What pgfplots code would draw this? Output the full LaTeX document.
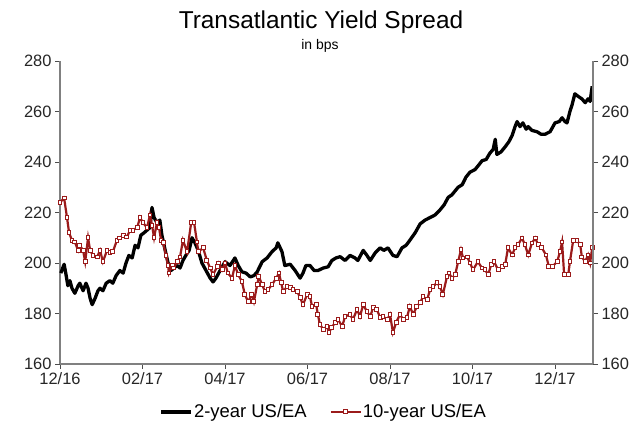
\documentclass[border=0pt]{standalone}
\usepackage{pgfplots}
\pgfplotsset{compat=1.18}
\usepackage{fontspec}
\setmainfont{Liberation Sans}
\definecolor{dred}{RGB}{155,27,27}
\definecolor{axgray}{RGB}{128,128,128}
\begin{document}
\begin{tikzpicture}[x=1bp,y=1bp]
\path[use as bounding box] (0,0) rectangle (640,437);
\node[font=\fontsize{24.5}{27}\selectfont] at (321,415) {Transatlantic Yield Spread};
\node[font=\fontsize{14}{16}\selectfont] at (320,391) {in bps};
\begin{axis}[
  at={(60bp,73bp)}, anchor=south west,
  scale only axis, width=533bp, height=303bp,
  xmin=0, xmax=12.92, ymin=160, ymax=280,
  axis x line*=bottom, axis y line*=left,
  axis line style={draw=axgray, line width=1.5bp},
  every tick/.style={draw=black!70, line width=0.8bp},
  tick align=outside, major tick length=5bp,
  xtick={0,2,4,6,8,10,12},
  xticklabels={12/16,02/17,04/17,06/17,08/17,10/17,12/17},
  ytick={160,180,...,280},
  ticklabel style={font=\fontsize{16.5}{18}\selectfont, text=black!85},
  /pgf/number format/assume math mode=true,
  legend columns=2,
  legend style={at={(0.494,-0.158)}, anchor=center, draw=none, fill=none,
    font=\fontsize{18.5}{20}\selectfont, column sep=0bp, nodes={inner xsep=1bp},
    /tikz/every even column/.append style={column sep=22bp}},
  legend image code/.code={
    \draw[#1, mark repeat=2, mark phase=2] plot coordinates {(0bp,0bp) (15bp,0bp) (30bp,0bp)};},
  clip=false,
]
\addplot[black, line width=3.3bp, line join=round] coordinates {
(0.02,196) (0.10,199.5) (0.15,195) (0.19,191) (0.24,193) (0.29,190) (0.36,188) (0.44,191) (0.48,192) (0.56,189)
(0.63,192) (0.68,190) (0.73,186) (0.78,183.5) (0.85,186) (0.92,189) (0.97,190) (1.04,189) (1.12,192) (1.21,193)
(1.28,192) (1.36,195) (1.45,197) (1.53,196) (1.60,200) (1.67,203) (1.75,202) (1.82,207) (1.89,206) (1.96,211)
(2.04,212) (2.11,213) (2.18,214) (2.23,222) (2.28,218) (2.35,216) (2.42,217) (2.47,211) (2.55,205) (2.62,200)
(2.69,197) (2.76,198) (2.84,199) (2.91,198) (2.98,201) (3.05,203) (3.13,205) (3.20,210) (3.27,208) (3.35,205)
(3.44,200) (3.54,197) (3.64,194) (3.71,192.5) (3.78,194) (3.88,197) (4.00,200.5) (4.12,199) (4.24,202) (4.32,199)
(4.41,196.5) (4.51,196) (4.61,194.5) (4.70,195) (4.78,196.5) (4.90,200.5) (5.02,202) (5.14,204.5) (5.24,206) (5.28,208)
(5.38,204.5) (5.45,199) (5.58,199.5) (5.70,197) (5.82,194) (5.89,196) (5.96,199) (6.06,199) (6.16,197) (6.25,197)
(6.38,198) (6.50,198.5) (6.59,201) (6.69,202) (6.79,202.5) (6.91,201) (7.03,203) (7.15,202) (7.22,201) (7.35,205)
(7.44,203) (7.52,201) (7.64,204) (7.76,206) (7.85,205) (7.95,206) (8.07,203) (8.17,202.5) (8.29,206) (8.39,207)
(8.48,209) (8.61,212) (8.73,215.5) (8.85,217) (8.97,218) (9.09,219) (9.21,221) (9.31,223) (9.41,226) (9.50,227)
(9.65,230) (9.75,231) (9.84,234) (9.94,236) (10.06,237) (10.16,239) (10.23,240.5) (10.33,241) (10.42,243.5) (10.50,245)
(10.55,249) (10.59,243) (10.69,244) (10.79,246) (10.88,248) (10.96,250.5) (11.03,254) (11.08,256) (11.15,254) (11.22,255.5)
(11.30,253) (11.35,254) (11.44,252.5) (11.56,252) (11.66,251) (11.76,251) (11.88,252) (12.00,255.5) (12.10,256) (12.17,257.5)
(12.24,256) (12.29,255.5) (12.36,260) (12.41,262.5) (12.48,267) (12.56,266) (12.65,265) (12.73,263.5) (12.80,265) (12.85,264)
(12.90,270)
};
\addlegendentry{2-year US/EA}
\addplot[dred, line width=2.2bp, mark=square*, mark size=1.9bp,
  mark options={fill=white, draw=dred, line width=1bp}] coordinates {
(0.00,224) (0.10,225.7) (0.17,218) (0.22,212) (0.29,209) (0.36,208.3) (0.44,205) (0.48,207) (0.56,205) (0.61,200.5)
(0.68,210) (0.73,205) (0.80,203) (0.90,202.4) (0.97,205) (1.04,200.5) (1.14,205) (1.21,204) (1.28,204.4) (1.38,209)
(1.45,209.9) (1.53,211) (1.62,210.3) (1.70,213) (1.77,213) (1.87,214) (1.94,218) (2.01,216) (2.11,214) (2.18,219)
(2.23,215) (2.28,210) (2.35,216) (2.40,214) (2.45,209) (2.50,208) (2.57,203) (2.62,199) (2.64,196) (2.72,199)
(2.76,198) (2.84,200.5) (2.91,202.4) (2.98,209) (3.08,204.4) (3.18,216) (3.25,216) (3.32,208.3) (3.35,204.4) (3.47,206)
(3.56,201) (3.64,198) (3.71,195.4) (3.81,198.5) (3.85,200) (3.93,197.3) (4.00,200) (4.07,196) (4.17,194) (4.24,199)
(4.32,195.4) (4.41,192.6) (4.48,187.5) (4.56,184.7) (4.65,187.5) (4.70,184.7) (4.78,191.4) (4.82,194.6) (4.90,191.4) (4.97,188.7)
(5.04,189.4) (5.14,191.4) (5.24,194) (5.31,196) (5.36,192.2) (5.41,188.7) (5.50,190.6) (5.58,190.2) (5.65,189.4) (5.75,188.7)
(5.82,186.3) (5.89,183.5) (5.99,187.5) (6.06,186.7) (6.11,182.8) (6.21,183.5) (6.25,179.6) (6.30,175.7) (6.38,173.7) (6.47,174.9)
(6.52,172.5) (6.59,174.5) (6.67,176.5) (6.74,177.6) (6.84,174.9) (6.91,178.8) (7.03,179.6) (7.10,177.6) (7.20,181.6) (7.27,178.8)
(7.35,183.5) (7.44,180.8) (7.52,178.8) (7.59,182.4) (7.68,181.6) (7.76,178.4) (7.83,178.8) (7.93,177.6) (8.00,179.6) (8.07,172.5)
(8.15,176.5) (8.24,179.6) (8.32,177.6) (8.41,178.4) (8.48,182.8) (8.56,179.6) (8.65,182.8) (8.73,184.3) (8.80,186.7) (8.90,185.5)
(8.97,189.4) (9.04,190.6) (9.14,192.2) (9.21,190.6) (9.28,187.5) (9.38,194.6) (9.43,196) (9.50,194) (9.58,195.4) (9.65,200.5)
(9.72,205.2) (9.77,202) (9.87,202.4) (9.94,200) (10.01,197.3) (10.13,200.5) (10.23,198) (10.30,197.3) (10.38,195.4) (10.45,199.3)
(10.52,200.5) (10.62,197.3) (10.72,198.5) (10.79,199.3) (10.86,206) (10.96,203.2) (11.03,206) (11.10,207.2) (11.20,209.9) (11.27,207.2)
(11.35,203.2) (11.44,207.9) (11.52,209.9) (11.59,207.2) (11.68,206) (11.78,203.2) (11.85,198.5) (11.93,198.5) (12.05,200.5) (12.12,204.4)
(12.17,208.3) (12.22,195.4) (12.32,195.4) (12.36,200.5) (12.44,209) (12.53,209) (12.61,207.2) (12.65,202.4) (12.73,200.5) (12.80,203.2)
(12.85,200) (12.90,206)
};
\addlegendentry{10-year US/EA}
\end{axis}
\begin{axis}[
  at={(60bp,73bp)}, anchor=south west,
  scale only axis, width=533bp, height=303bp,
  xmin=0, xmax=12.92, ymin=160, ymax=280,
  axis y line*=right, axis x line=none,
  axis line style={draw=axgray, line width=1.5bp},
  every tick/.style={draw=black!70, line width=0.8bp},
  tick align=outside, major tick length=5bp,
  ytick={160,180,...,280},
  ticklabel style={font=\fontsize{16.5}{18}\selectfont, text=black!85},
  /pgf/number format/assume math mode=true,
]
\addplot[draw=none] coordinates {(0,200) (12,200)};
\end{axis}
\end{tikzpicture}
\end{document}
